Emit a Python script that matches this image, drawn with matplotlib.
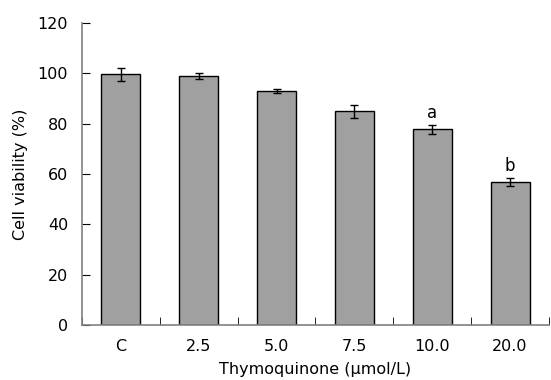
import matplotlib
matplotlib.use("Agg")
import matplotlib.pyplot as plt
import numpy as np

# Data
categories = ["C", "2.5", "5.0", "7.5", "10.0", "20.0"]
viability = [99.6, 99.0, 93.0, 85.0, 77.8, 56.8]
errors = [2.6, 1.1, 0.8, 2.6, 1.7, 1.7]
labels = ["", "", "", "", "a", "b"]

plt.rcParams['font.family'] = ['DejaVu Sans']

fig = plt.figure(figsize=(5.51, 3.80), dpi=100)
ax = fig.add_axes([0.1488, 0.1447, 0.8475, 0.7947])

x = np.arange(len(categories))
ax.bar(x, viability, width=0.5, color="#a0a0a0", edgecolor="black", linewidth=1.0)
ax.errorbar(x, viability, yerr=errors, fmt="none", ecolor="black",
            elinewidth=1.0, capsize=3, capthick=1.0)

# significance letters above the error bars
for xi, v, e, lab in zip(x, viability, errors, labels):
    if lab:
        ax.text(xi, v + e + 1.2, lab, ha="center", va="bottom", fontsize=12)

ax.set_xlim(-0.5, len(categories) - 0.5)
ax.set_ylim(0, 120)
ax.set_yticks(np.arange(0, 121, 20))
ax.set_xticks(x)
ax.set_xticklabels(categories)
ax.set_xticks(np.arange(-0.5, len(categories), 1.0), minor=True)
ax.tick_params(axis="x", which="major", length=0, pad=10, labelsize=11.5)
ax.tick_params(axis="x", which="minor", length=6, direction="in", color="black")
ax.tick_params(axis="y", length=6, direction="in", color="black", labelsize=11.5, pad=10)

for s in ["top", "right"]:
    ax.spines[s].set_visible(False)
for s in ["left", "bottom"]:
    ax.spines[s].set_color("#808080")
    ax.spines[s].set_linewidth(1.2)

ax.set_xlabel("Thymoquinone (\u03bcmol/L)", fontsize=11.5, labelpad=6)
ax.set_ylabel("Cell viability (%)", fontsize=11.5, labelpad=7)

fig.savefig("out.png", dpi=100)
